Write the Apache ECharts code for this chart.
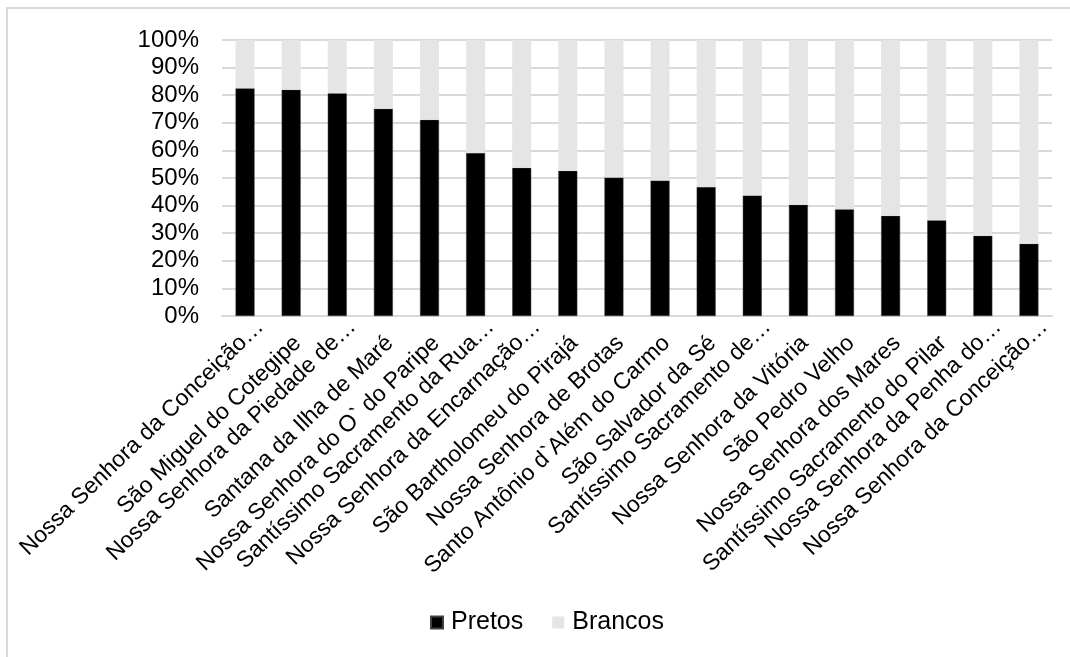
<!DOCTYPE html>
<html>
<head>
<meta charset="utf-8">
<script src="https://cdn.jsdelivr.net/npm/echarts@6/dist/echarts.min.js"></script>
<style>
  html, body { margin: 0; padding: 0; background: #fff; }
  #chart { width: 1070px; height: 657px; }
</style>
</head>
<body>
<div id="chart"></div>
<script>
// Parishes of Salvador, ordered by share of "Pretos"
const parishes = [
  'Nossa Senhora da Conceição…',
  'São Miguel do Cotegipe',
  'Nossa Senhora da Piedade de…',
  'Santana da Ilha de Maré',
  'Nossa Senhora do O` do Paripe',
  'Santíssimo Sacramento da Rua…',
  'Nossa Senhora da Encarnação…',
  'São Bartholomeu do Pirajá',
  'Nossa Senhora de Brotas',
  'Santo Antônio d`Além do Carmo',
  'São Salvador da Sé',
  'Santíssimo Sacramento de…',
  'Nossa Senhora da Vitória',
  'São Pedro Velho',
  'Nossa Senhora dos Mares',
  'Santíssimo Sacramento do Pilar',
  'Nossa Senhora da Penha do…',
  'Nossa Senhora da Conceição…'
];

// Percent of population per parish
const pretos  = [82.5, 82.0, 80.7, 75.1, 71.1, 59.1, 53.7, 52.6, 50.2, 49.1, 46.7, 43.7, 40.3, 38.7, 36.3, 34.7, 29.1, 26.2];
const brancos = [17.5, 18.0, 19.3, 24.9, 28.9, 40.9, 46.3, 47.4, 49.8, 50.9, 53.3, 56.3, 59.7, 61.3, 63.7, 65.3, 70.9, 73.8];

const percentTicks = ['0%', '10%', '20%', '30%', '40%', '50%', '60%', '70%', '80%', '90%', '100%'];

const FONT = '"Liberation Sans", Arial, sans-serif';
const isShortened = name => name.endsWith('…');

// Shared look of the slanted parish labels
function parishLabels(showShortened, margin, shiftAlong) {
  return {
    show: true,
    interval: 0,
    rotate: 44,
    margin: margin,
    padding: [0, -shiftAlong, 0, 0],
    fontFamily: FONT,
    fontSize: 23,
    color: '#000',
    formatter: v => (isShortened(v) === showShortened ? v : '')
  };
}

const chart = echarts.init(document.getElementById('chart'), null, { renderer: 'canvas' });

chart.setOption({
  backgroundColor: '#ffffff',
  animation: false,
  graphic: [{
    type: 'rect',
    shape: { x: 7, y: 8, width: 1200, height: 800 },
    style: { fill: 'none', stroke: '#d9d9d9', lineWidth: 2 },
    silent: true
  }],
  grid: { left: 222, right: 18, top: 40, bottom: 341, containLabel: false },
  legend: {
    top: 605,
    left: 425,
    itemWidth: 12,
    itemHeight: 12,
    itemGap: 29,
    icon: 'rect',
    textStyle: { fontFamily: FONT, fontSize: 25, color: '#000', padding: [0, 0, 0, 3] },
    data: ['Pretos', 'Brancos']
  },
  xAxis: [
    {
      type: 'category',
      position: 'bottom',
      data: parishes,
      axisLine: { show: true, lineStyle: { color: '#d9d9d9', width: 2 } },
      axisTick: { show: false },
      axisLabel: parishLabels(false, 30, 9)
    },
    {
      type: 'category',
      position: 'bottom',
      data: parishes,
      axisLine: { show: false },
      axisTick: { show: false },
      splitLine: { show: false },
      axisLabel: parishLabels(true, 22, 21)
    }
  ],
  yAxis: {
    type: 'value',
    min: 0,
    max: 100,
    interval: 10,
    axisLine: { show: false },
    axisTick: { show: false },
    splitLine: { lineStyle: { color: '#d9d9d9', width: 2 } },
    axisLabel: {
      margin: 23,
      fontFamily: FONT,
      fontSize: 24,
      color: '#000',
      formatter: v => percentTicks[Math.round(v / 10)]
    }
  },
  series: [
    {
      name: 'Pretos',
      type: 'bar',
      stack: 'total',
      data: pretos,
      barWidth: 19,
      itemStyle: { color: '#000000', borderColor: '#404040', borderWidth: 0.5 }
    },
    {
      name: 'Brancos',
      type: 'bar',
      stack: 'total',
      data: brancos,
      barWidth: 19,
      itemStyle: { color: '#e5e5e5' }
    }
  ]
});
</script>
</body>
</html>
